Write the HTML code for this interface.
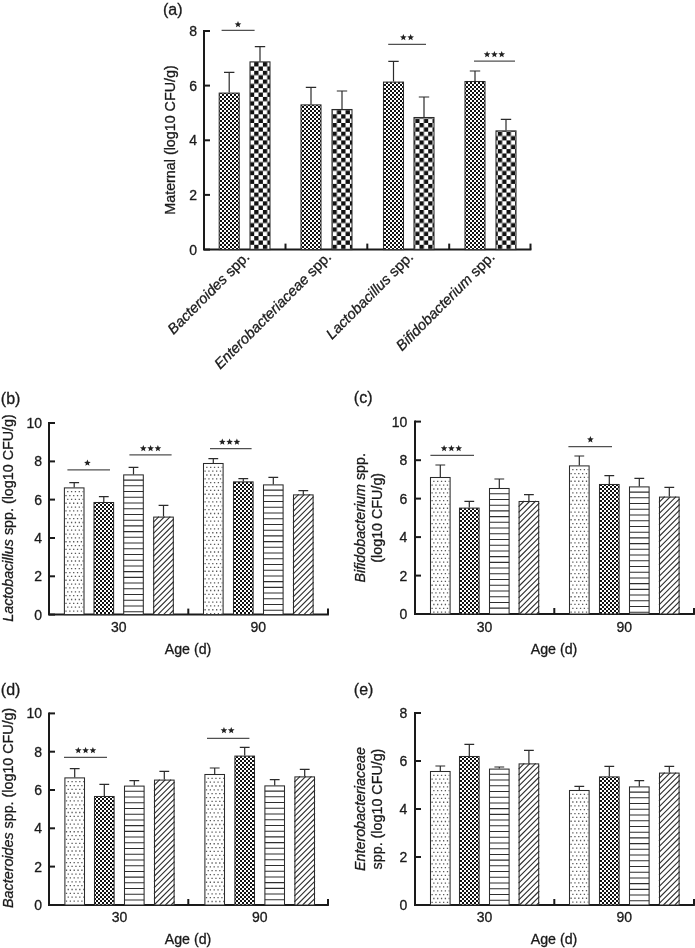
<!DOCTYPE html>
<html><head><meta charset="utf-8"><title>Figure</title>
<style>html,body{margin:0;padding:0;background:#fff}body{width:695px;height:948px;overflow:hidden}svg{display:block;will-change:transform}text{font-family:"Liberation Sans",sans-serif;fill:#1a1a1a;stroke:#1a1a1a;stroke-width:0.3px}</style></head><body>
<svg width="695" height="948" viewBox="0 0 695 948">
<rect width="695" height="948" fill="#fff"/>
<defs>
<pattern id="chk" width="4" height="4" patternUnits="userSpaceOnUse"><rect width="4" height="4" fill="#fff"/><rect x="0" y="0" width="2" height="2" fill="#111"/><rect x="2" y="2" width="2" height="2" fill="#111"/></pattern>
<pattern id="chkA" width="4" height="4" patternUnits="userSpaceOnUse"><rect width="4" height="4" fill="#fff"/><rect x="0" y="0" width="2" height="2" fill="#111"/><rect x="2" y="2" width="2" height="2" fill="#111"/></pattern>
<pattern id="bigA" width="8.7" height="8.7" patternUnits="userSpaceOnUse" patternTransform="translate(1.9 1.2)"><rect width="8.7" height="8.7" fill="#fff"/><rect x="0" y="0" width="4.35" height="4.35" fill="#111"/><rect x="4.35" y="4.35" width="4.35" height="4.35" fill="#111"/></pattern>
</defs>
<text x="163" y="14.6" font-size="16" text-anchor="start" >(a)</text>
<path d="M204 30 V249.6 H531.4" stroke="#1a1a1a" stroke-width="2" fill="none" stroke-linejoin="miter"/>
<line x1="204" y1="31" x2="210" y2="31" stroke="#1a1a1a" stroke-width="2"/>
<text x="197" y="36" font-size="14" text-anchor="end" >8</text>
<line x1="204" y1="85.6" x2="210" y2="85.6" stroke="#1a1a1a" stroke-width="2"/>
<text x="197" y="90.6" font-size="14" text-anchor="end" >6</text>
<line x1="204" y1="140.3" x2="210" y2="140.3" stroke="#1a1a1a" stroke-width="2"/>
<text x="197" y="145.3" font-size="14" text-anchor="end" >4</text>
<line x1="204" y1="194.9" x2="210" y2="194.9" stroke="#1a1a1a" stroke-width="2"/>
<text x="197" y="199.9" font-size="14" text-anchor="end" >2</text>
<line x1="204" y1="249.6" x2="210" y2="249.6" stroke="#1a1a1a" stroke-width="2"/>
<text x="197" y="254.6" font-size="14" text-anchor="end" >0</text>
<line x1="285.5" y1="249.6" x2="285.5" y2="243.6" stroke="#1a1a1a" stroke-width="2"/>
<line x1="367.3" y1="249.6" x2="367.3" y2="243.6" stroke="#1a1a1a" stroke-width="2"/>
<line x1="449.2" y1="249.6" x2="449.2" y2="243.6" stroke="#1a1a1a" stroke-width="2"/>
<line x1="530.5" y1="249.6" x2="530.5" y2="243.6" stroke="#1a1a1a" stroke-width="2"/>
<text transform="translate(174.6 140) rotate(-90)" font-size="14.3" text-anchor="middle">Maternal (log10 CFU/g)</text>
<path d="M229.2 92.6 V72.4 M224 72.4 H234.4" stroke="#2b2b2b" stroke-width="1.2" fill="none"/>
<rect x="219.2" y="93.1" width="20" height="156.5" fill="#fff"/>
<rect x="219.2" y="93.1" width="20" height="156.5" fill="url(#chkA)" stroke="#2b2b2b" stroke-width="1.05"/>
<path d="M260 61.4 V46.6 M254.8 46.6 H265.2" stroke="#2b2b2b" stroke-width="1.2" fill="none"/>
<rect x="250" y="61.9" width="20" height="187.7" fill="#fff"/>
<rect x="250" y="61.9" width="20" height="187.7" fill="url(#bigA)" stroke="#2b2b2b" stroke-width="1.05"/>
<path d="M311 104.4 V87.4 M305.8 87.4 H316.2" stroke="#2b2b2b" stroke-width="1.2" fill="none"/>
<rect x="301" y="104.9" width="20" height="144.7" fill="#fff"/>
<rect x="301" y="104.9" width="20" height="144.7" fill="url(#chkA)" stroke="#2b2b2b" stroke-width="1.05"/>
<path d="M342 109 V91 M336.8 91 H347.2" stroke="#2b2b2b" stroke-width="1.2" fill="none"/>
<rect x="332" y="109.5" width="20" height="140.1" fill="#fff"/>
<rect x="332" y="109.5" width="20" height="140.1" fill="url(#bigA)" stroke="#2b2b2b" stroke-width="1.05"/>
<path d="M393.5 81.6 V61.4 M388.3 61.4 H398.7" stroke="#2b2b2b" stroke-width="1.2" fill="none"/>
<rect x="383.5" y="82.1" width="20" height="167.5" fill="#fff"/>
<rect x="383.5" y="82.1" width="20" height="167.5" fill="url(#chkA)" stroke="#2b2b2b" stroke-width="1.05"/>
<path d="M424 117 V97 M418.8 97 H429.2" stroke="#2b2b2b" stroke-width="1.2" fill="none"/>
<rect x="414" y="117.5" width="20" height="132.1" fill="#fff"/>
<rect x="414" y="117.5" width="20" height="132.1" fill="url(#bigA)" stroke="#2b2b2b" stroke-width="1.05"/>
<path d="M475 81 V71 M469.8 71 H480.2" stroke="#2b2b2b" stroke-width="1.2" fill="none"/>
<rect x="465" y="81.5" width="20" height="168.1" fill="#fff"/>
<rect x="465" y="81.5" width="20" height="168.1" fill="url(#chkA)" stroke="#2b2b2b" stroke-width="1.05"/>
<path d="M506 130.4 V119.4 M500.8 119.4 H511.2" stroke="#2b2b2b" stroke-width="1.2" fill="none"/>
<rect x="496" y="130.9" width="20" height="118.7" fill="#fff"/>
<rect x="496" y="130.9" width="20" height="118.7" fill="url(#bigA)" stroke="#2b2b2b" stroke-width="1.05"/>
<line x1="221.6" y1="30.3" x2="254.6" y2="30.3" stroke="#505050" stroke-width="1.3"/>
<polygon points="238,21 238.91,23.25 241.33,23.42 239.47,24.98 240.06,27.33 238,26.05 235.94,27.33 236.53,24.98 234.67,23.42 237.09,23.25" fill="#222"/>
<line x1="388.2" y1="44.3" x2="426" y2="44.3" stroke="#505050" stroke-width="1.3"/>
<polygon points="403.35,34 404.26,36.25 406.68,36.42 404.82,37.98 405.41,40.33 403.35,39.05 401.29,40.33 401.88,37.98 400.02,36.42 402.44,36.25" fill="#222"/>
<polygon points="410.65,34 411.56,36.25 413.98,36.42 412.12,37.98 412.71,40.33 410.65,39.05 408.59,40.33 409.18,37.98 407.32,36.42 409.74,36.25" fill="#222"/>
<line x1="474" y1="61.1" x2="515" y2="61.1" stroke="#505050" stroke-width="1.3"/>
<polygon points="487.1,50.9 488.01,53.15 490.43,53.32 488.57,54.88 489.16,57.23 487.1,55.95 485.04,57.23 485.63,54.88 483.77,53.32 486.19,53.15" fill="#222"/>
<polygon points="494.4,50.9 495.31,53.15 497.73,53.32 495.87,54.88 496.46,57.23 494.4,55.95 492.34,57.23 492.93,54.88 491.07,53.32 493.49,53.15" fill="#222"/>
<polygon points="501.7,50.9 502.61,53.15 505.03,53.32 503.17,54.88 503.76,57.23 501.7,55.95 499.64,57.23 500.23,54.88 498.37,53.32 500.79,53.15" fill="#222"/>
<text transform="translate(250.4 258) rotate(-45)" font-size="14.6" text-anchor="end"><tspan font-style="italic">Bacteroides</tspan> spp.</text>
<text transform="translate(332 258) rotate(-45)" font-size="14.6" text-anchor="end"><tspan font-style="italic">Enterobacteriaceae</tspan> spp.</text>
<text transform="translate(414 258) rotate(-45)" font-size="14.6" text-anchor="end"><tspan font-style="italic">Lactobacillus</tspan> spp.</text>
<text transform="translate(495.5 258) rotate(-45)" font-size="14.6" text-anchor="end"><tspan font-style="italic">Bifidobacterium</tspan> spp.</text>
<path d="M49 422 V614.6 H328.9" stroke="#1a1a1a" stroke-width="2" fill="none" stroke-linejoin="miter"/>
<line x1="49" y1="423" x2="55" y2="423" stroke="#1a1a1a" stroke-width="2"/>
<text x="42" y="428" font-size="14" text-anchor="end" >10</text>
<line x1="49" y1="461.4" x2="55" y2="461.4" stroke="#1a1a1a" stroke-width="2"/>
<text x="42" y="466.4" font-size="14" text-anchor="end" >8</text>
<line x1="49" y1="499.6" x2="55" y2="499.6" stroke="#1a1a1a" stroke-width="2"/>
<text x="42" y="504.6" font-size="14" text-anchor="end" >6</text>
<line x1="49" y1="538" x2="55" y2="538" stroke="#1a1a1a" stroke-width="2"/>
<text x="42" y="543" font-size="14" text-anchor="end" >4</text>
<line x1="49" y1="576.3" x2="55" y2="576.3" stroke="#1a1a1a" stroke-width="2"/>
<text x="42" y="581.3" font-size="14" text-anchor="end" >2</text>
<line x1="49" y1="614.6" x2="55" y2="614.6" stroke="#1a1a1a" stroke-width="2"/>
<text x="42" y="619.6" font-size="14" text-anchor="end" >0</text>
<line x1="188.3" y1="614.6" x2="188.3" y2="608.6" stroke="#1a1a1a" stroke-width="2"/>
<line x1="328" y1="614.6" x2="328" y2="608.6" stroke="#1a1a1a" stroke-width="2"/>
<path d="M74.2 487.4 V482.6 M69.3 482.6 H79.1" stroke="#2b2b2b" stroke-width="1.2" fill="none"/>
<rect x="64.4" y="487.9" width="19.6" height="126.7" fill="#fff"/>
<path d="M67.1 491.7H83.3M65.35 495.55H83.3M67.1 499.4H83.3M65.35 503.25H83.3M67.1 507.1H83.3M65.35 510.95H83.3M67.1 514.8H83.3M65.35 518.65H83.3M67.1 522.5H83.3M65.35 526.35H83.3M67.1 530.2H83.3M65.35 534.05H83.3M67.1 537.9H83.3M65.35 541.75H83.3M67.1 545.6H83.3M65.35 549.45H83.3M67.1 553.3H83.3M65.35 557.15H83.3M67.1 561H83.3M65.35 564.85H83.3M67.1 568.7H83.3M65.35 572.55H83.3M67.1 576.4H83.3M65.35 580.25H83.3M67.1 584.1H83.3M65.35 587.95H83.3M67.1 591.8H83.3M65.35 595.65H83.3M67.1 599.5H83.3M65.35 603.35H83.3M67.1 607.2H83.3M65.35 611.05H83.3" stroke="#5a5a5a" stroke-width="1.3" stroke-dasharray="1.3 2.55" fill="none"/>
<rect x="64.4" y="487.9" width="19.6" height="126.7" fill="none" stroke="#2b2b2b" stroke-width="1.05"/>
<path d="M103.8 502 V496.6 M98.9 496.6 H108.7" stroke="#2b2b2b" stroke-width="1.2" fill="none"/>
<rect x="94" y="502.5" width="19.6" height="112.1" fill="#fff"/>
<rect x="94" y="502.5" width="19.6" height="112.1" fill="url(#chk)" stroke="#2b2b2b" stroke-width="1.05"/>
<path d="M133.5 474.4 V467.4 M128.6 467.4 H138.4" stroke="#2b2b2b" stroke-width="1.2" fill="none"/>
<rect x="123.7" y="474.9" width="19.6" height="139.7" fill="#fff"/>
<path d="M123.7 480.12H143.3M123.7 485.84H143.3M123.7 491.56H143.3M123.7 497.28H143.3M123.7 503H143.3M123.7 508.72H143.3M123.7 514.44H143.3M123.7 520.16H143.3M123.7 525.88H143.3M123.7 531.6H143.3M123.7 537.32H143.3M123.7 543.04H143.3M123.7 548.76H143.3M123.7 554.48H143.3M123.7 560.2H143.3M123.7 565.92H143.3M123.7 571.64H143.3M123.7 577.36H143.3M123.7 583.08H143.3M123.7 588.8H143.3M123.7 594.52H143.3M123.7 600.24H143.3M123.7 605.96H143.3M123.7 611.68H143.3" stroke="#2e2e2e" stroke-width="1.05" fill="none"/>
<rect x="123.7" y="474.9" width="19.6" height="139.7" fill="none" stroke="#2b2b2b" stroke-width="1.05"/>
<path d="M163.5 516.6 V505.4 M158.6 505.4 H168.4" stroke="#2b2b2b" stroke-width="1.2" fill="none"/>
<rect x="153.7" y="517.1" width="19.6" height="97.5" fill="#fff"/>
<path d="M153.2 522.3L158.9 516.6M153.2 528L164.6 516.6M153.2 533.7L170.3 516.6M153.2 539.4L173.8 518.8M153.2 545.1L173.8 524.5M153.2 550.8L173.8 530.2M153.2 556.5L173.8 535.9M153.2 562.2L173.8 541.6M153.2 567.9L173.8 547.3M153.2 573.6L173.8 553M153.2 579.3L173.8 558.7M153.2 585L173.8 564.4M153.2 590.7L173.8 570.1M153.2 596.4L173.8 575.8M153.2 602.1L173.8 581.5M153.2 607.8L173.8 587.2M153.2 613.5L173.8 592.9M157.8 614.6L173.8 598.6M163.5 614.6L173.8 604.3M169.2 614.6L173.8 610" stroke="#303030" stroke-width="1.12" fill="none"/>
<rect x="153.7" y="517.1" width="19.6" height="97.5" fill="none" stroke="#2b2b2b" stroke-width="1.05"/>
<path d="M213.3 463 V458.6 M208.4 458.6 H218.2" stroke="#2b2b2b" stroke-width="1.2" fill="none"/>
<rect x="203.5" y="463.5" width="19.6" height="151.1" fill="#fff"/>
<path d="M206.2 467.3H222.4M204.45 471.15H222.4M206.2 475H222.4M204.45 478.85H222.4M206.2 482.7H222.4M204.45 486.55H222.4M206.2 490.4H222.4M204.45 494.25H222.4M206.2 498.1H222.4M204.45 501.95H222.4M206.2 505.8H222.4M204.45 509.65H222.4M206.2 513.5H222.4M204.45 517.35H222.4M206.2 521.2H222.4M204.45 525.05H222.4M206.2 528.9H222.4M204.45 532.75H222.4M206.2 536.6H222.4M204.45 540.45H222.4M206.2 544.3H222.4M204.45 548.15H222.4M206.2 552H222.4M204.45 555.85H222.4M206.2 559.7H222.4M204.45 563.55H222.4M206.2 567.4H222.4M204.45 571.25H222.4M206.2 575.1H222.4M204.45 578.95H222.4M206.2 582.8H222.4M204.45 586.65H222.4M206.2 590.5H222.4M204.45 594.35H222.4M206.2 598.2H222.4M204.45 602.05H222.4M206.2 605.9H222.4M204.45 609.75H222.4M206.2 613.6H222.4" stroke="#5a5a5a" stroke-width="1.3" stroke-dasharray="1.3 2.55" fill="none"/>
<rect x="203.5" y="463.5" width="19.6" height="151.1" fill="none" stroke="#2b2b2b" stroke-width="1.05"/>
<path d="M243.3 481.4 V478.6 M238.4 478.6 H248.2" stroke="#2b2b2b" stroke-width="1.2" fill="none"/>
<rect x="233.5" y="481.9" width="19.6" height="132.7" fill="#fff"/>
<rect x="233.5" y="481.9" width="19.6" height="132.7" fill="url(#chk)" stroke="#2b2b2b" stroke-width="1.05"/>
<path d="M273.3 484.4 V477.4 M268.4 477.4 H278.2" stroke="#2b2b2b" stroke-width="1.2" fill="none"/>
<rect x="263.5" y="484.9" width="19.6" height="129.7" fill="#fff"/>
<path d="M263.5 490.12H283.1M263.5 495.84H283.1M263.5 501.56H283.1M263.5 507.28H283.1M263.5 513H283.1M263.5 518.72H283.1M263.5 524.44H283.1M263.5 530.16H283.1M263.5 535.88H283.1M263.5 541.6H283.1M263.5 547.32H283.1M263.5 553.04H283.1M263.5 558.76H283.1M263.5 564.48H283.1M263.5 570.2H283.1M263.5 575.92H283.1M263.5 581.64H283.1M263.5 587.36H283.1M263.5 593.08H283.1M263.5 598.8H283.1M263.5 604.52H283.1M263.5 610.24H283.1" stroke="#2e2e2e" stroke-width="1.05" fill="none"/>
<rect x="263.5" y="484.9" width="19.6" height="129.7" fill="none" stroke="#2b2b2b" stroke-width="1.05"/>
<path d="M303.3 494.4 V490.6 M298.4 490.6 H308.2" stroke="#2b2b2b" stroke-width="1.2" fill="none"/>
<rect x="293.5" y="494.9" width="19.6" height="119.7" fill="#fff"/>
<path d="M293 500.1L298.7 494.4M293 505.8L304.4 494.4M293 511.5L310.1 494.4M293 517.2L313.6 496.6M293 522.9L313.6 502.3M293 528.6L313.6 508M293 534.3L313.6 513.7M293 540L313.6 519.4M293 545.7L313.6 525.1M293 551.4L313.6 530.8M293 557.1L313.6 536.5M293 562.8L313.6 542.2M293 568.5L313.6 547.9M293 574.2L313.6 553.6M293 579.9L313.6 559.3M293 585.6L313.6 565M293 591.3L313.6 570.7M293 597L313.6 576.4M293 602.7L313.6 582.1M293 608.4L313.6 587.8M293 614.1L313.6 593.5M298.2 614.6L313.6 599.2M303.9 614.6L313.6 604.9M309.6 614.6L313.6 610.6" stroke="#303030" stroke-width="1.12" fill="none"/>
<rect x="293.5" y="494.9" width="19.6" height="119.7" fill="none" stroke="#2b2b2b" stroke-width="1.05"/>
<text x="0.8" y="404" font-size="16" text-anchor="start" >(b)</text>
<text x="118.85" y="631.8" font-size="14" text-anchor="middle" >30</text>
<text x="258.3" y="631.8" font-size="14" text-anchor="middle" >90</text>
<text x="188" y="653.5" font-size="14.2" text-anchor="middle" >Age (d)</text>
<text transform="translate(13 518) rotate(-90)" font-size="14.3" text-anchor="middle"><tspan font-style="italic">Lactobacillus</tspan> spp. (log10 CFU/g)</text>
<line x1="67.4" y1="469.9" x2="110" y2="469.9" stroke="#505050" stroke-width="1.3"/>
<polygon points="87.4,459.5 88.31,461.75 90.73,461.92 88.87,463.48 89.46,465.83 87.4,464.55 85.34,465.83 85.93,463.48 84.07,461.92 86.49,461.75" fill="#222"/>
<line x1="129.4" y1="454.9" x2="171.6" y2="454.9" stroke="#505050" stroke-width="1.3"/>
<polygon points="143.3,444.9 144.21,447.15 146.63,447.32 144.77,448.88 145.36,451.23 143.3,449.95 141.24,451.23 141.83,448.88 139.97,447.32 142.39,447.15" fill="#222"/>
<polygon points="150.6,444.9 151.51,447.15 153.93,447.32 152.07,448.88 152.66,451.23 150.6,449.95 148.54,451.23 149.13,448.88 147.27,447.32 149.69,447.15" fill="#222"/>
<polygon points="157.9,444.9 158.81,447.15 161.23,447.32 159.37,448.88 159.96,451.23 157.9,449.95 155.84,451.23 156.43,448.88 154.57,447.32 156.99,447.15" fill="#222"/>
<line x1="210" y1="448.7" x2="251.6" y2="448.7" stroke="#505050" stroke-width="1.3"/>
<polygon points="222.3,438.5 223.21,440.75 225.63,440.92 223.77,442.48 224.36,444.83 222.3,443.55 220.24,444.83 220.83,442.48 218.97,440.92 221.39,440.75" fill="#222"/>
<polygon points="229.6,438.5 230.51,440.75 232.93,440.92 231.07,442.48 231.66,444.83 229.6,443.55 227.54,444.83 228.13,442.48 226.27,440.92 228.69,440.75" fill="#222"/>
<polygon points="236.9,438.5 237.81,440.75 240.23,440.92 238.37,442.48 238.96,444.83 236.9,443.55 234.84,444.83 235.43,442.48 233.57,440.92 235.99,440.75" fill="#222"/>
<path d="M415 420.6 V614 H694.9" stroke="#1a1a1a" stroke-width="2" fill="none" stroke-linejoin="miter"/>
<line x1="415" y1="421.6" x2="421" y2="421.6" stroke="#1a1a1a" stroke-width="2"/>
<text x="407.3" y="426.6" font-size="14" text-anchor="end" >10</text>
<line x1="415" y1="460.2" x2="421" y2="460.2" stroke="#1a1a1a" stroke-width="2"/>
<text x="407.3" y="465.2" font-size="14" text-anchor="end" >8</text>
<line x1="415" y1="498.6" x2="421" y2="498.6" stroke="#1a1a1a" stroke-width="2"/>
<text x="407.3" y="503.6" font-size="14" text-anchor="end" >6</text>
<line x1="415" y1="537.1" x2="421" y2="537.1" stroke="#1a1a1a" stroke-width="2"/>
<text x="407.3" y="542.1" font-size="14" text-anchor="end" >4</text>
<line x1="415" y1="575.6" x2="421" y2="575.6" stroke="#1a1a1a" stroke-width="2"/>
<text x="407.3" y="580.6" font-size="14" text-anchor="end" >2</text>
<line x1="415" y1="614" x2="421" y2="614" stroke="#1a1a1a" stroke-width="2"/>
<text x="407.3" y="619" font-size="14" text-anchor="end" >0</text>
<line x1="554.3" y1="614" x2="554.3" y2="608" stroke="#1a1a1a" stroke-width="2"/>
<line x1="694" y1="614" x2="694" y2="608" stroke="#1a1a1a" stroke-width="2"/>
<path d="M440.3 477 V465 M435.4 465 H445.2" stroke="#2b2b2b" stroke-width="1.2" fill="none"/>
<rect x="430.5" y="477.5" width="19.6" height="136.5" fill="#fff"/>
<path d="M433.2 481.3H449.4M431.45 485.15H449.4M433.2 489H449.4M431.45 492.85H449.4M433.2 496.7H449.4M431.45 500.55H449.4M433.2 504.4H449.4M431.45 508.25H449.4M433.2 512.1H449.4M431.45 515.95H449.4M433.2 519.8H449.4M431.45 523.65H449.4M433.2 527.5H449.4M431.45 531.35H449.4M433.2 535.2H449.4M431.45 539.05H449.4M433.2 542.9H449.4M431.45 546.75H449.4M433.2 550.6H449.4M431.45 554.45H449.4M433.2 558.3H449.4M431.45 562.15H449.4M433.2 566H449.4M431.45 569.85H449.4M433.2 573.7H449.4M431.45 577.55H449.4M433.2 581.4H449.4M431.45 585.25H449.4M433.2 589.1H449.4M431.45 592.95H449.4M433.2 596.8H449.4M431.45 600.65H449.4M433.2 604.5H449.4M431.45 608.35H449.4M433.2 612.2H449.4" stroke="#5a5a5a" stroke-width="1.3" stroke-dasharray="1.3 2.55" fill="none"/>
<rect x="430.5" y="477.5" width="19.6" height="136.5" fill="none" stroke="#2b2b2b" stroke-width="1.05"/>
<path d="M469.3 507.6 V501.4 M464.4 501.4 H474.2" stroke="#2b2b2b" stroke-width="1.2" fill="none"/>
<rect x="459.5" y="508.1" width="19.6" height="105.9" fill="#fff"/>
<rect x="459.5" y="508.1" width="19.6" height="105.9" fill="url(#chk)" stroke="#2b2b2b" stroke-width="1.05"/>
<path d="M499.3 488 V479 M494.4 479 H504.2" stroke="#2b2b2b" stroke-width="1.2" fill="none"/>
<rect x="489.5" y="488.5" width="19.6" height="125.5" fill="#fff"/>
<path d="M489.5 493.72H509.1M489.5 499.44H509.1M489.5 505.16H509.1M489.5 510.88H509.1M489.5 516.6H509.1M489.5 522.32H509.1M489.5 528.04H509.1M489.5 533.76H509.1M489.5 539.48H509.1M489.5 545.2H509.1M489.5 550.92H509.1M489.5 556.64H509.1M489.5 562.36H509.1M489.5 568.08H509.1M489.5 573.8H509.1M489.5 579.52H509.1M489.5 585.24H509.1M489.5 590.96H509.1M489.5 596.68H509.1M489.5 602.4H509.1M489.5 608.12H509.1" stroke="#2e2e2e" stroke-width="1.05" fill="none"/>
<rect x="489.5" y="488.5" width="19.6" height="125.5" fill="none" stroke="#2b2b2b" stroke-width="1.05"/>
<path d="M528.9 501 V494.6 M524 494.6 H533.8" stroke="#2b2b2b" stroke-width="1.2" fill="none"/>
<rect x="519.1" y="501.5" width="19.6" height="112.5" fill="#fff"/>
<path d="M518.6 506.7L524.3 501M518.6 512.4L530 501M518.6 518.1L535.7 501M518.6 523.8L539.2 503.2M518.6 529.5L539.2 508.9M518.6 535.2L539.2 514.6M518.6 540.9L539.2 520.3M518.6 546.6L539.2 526M518.6 552.3L539.2 531.7M518.6 558L539.2 537.4M518.6 563.7L539.2 543.1M518.6 569.4L539.2 548.8M518.6 575.1L539.2 554.5M518.6 580.8L539.2 560.2M518.6 586.5L539.2 565.9M518.6 592.2L539.2 571.6M518.6 597.9L539.2 577.3M518.6 603.6L539.2 583M518.6 609.3L539.2 588.7M519.6 614L539.2 594.4M525.3 614L539.2 600.1M531 614L539.2 605.8M536.7 614L539.2 611.5" stroke="#303030" stroke-width="1.12" fill="none"/>
<rect x="519.1" y="501.5" width="19.6" height="112.5" fill="none" stroke="#2b2b2b" stroke-width="1.05"/>
<path d="M579.3 465.4 V456 M574.4 456 H584.2" stroke="#2b2b2b" stroke-width="1.2" fill="none"/>
<rect x="569.5" y="465.9" width="19.6" height="148.1" fill="#fff"/>
<path d="M572.2 469.7H588.4M570.45 473.55H588.4M572.2 477.4H588.4M570.45 481.25H588.4M572.2 485.1H588.4M570.45 488.95H588.4M572.2 492.8H588.4M570.45 496.65H588.4M572.2 500.5H588.4M570.45 504.35H588.4M572.2 508.2H588.4M570.45 512.05H588.4M572.2 515.9H588.4M570.45 519.75H588.4M572.2 523.6H588.4M570.45 527.45H588.4M572.2 531.3H588.4M570.45 535.15H588.4M572.2 539H588.4M570.45 542.85H588.4M572.2 546.7H588.4M570.45 550.55H588.4M572.2 554.4H588.4M570.45 558.25H588.4M572.2 562.1H588.4M570.45 565.95H588.4M572.2 569.8H588.4M570.45 573.65H588.4M572.2 577.5H588.4M570.45 581.35H588.4M572.2 585.2H588.4M570.45 589.05H588.4M572.2 592.9H588.4M570.45 596.75H588.4M572.2 600.6H588.4M570.45 604.45H588.4M572.2 608.3H588.4M570.45 612.15H588.4" stroke="#5a5a5a" stroke-width="1.3" stroke-dasharray="1.3 2.55" fill="none"/>
<rect x="569.5" y="465.9" width="19.6" height="148.1" fill="none" stroke="#2b2b2b" stroke-width="1.05"/>
<path d="M609.3 484 V475.6 M604.4 475.6 H614.2" stroke="#2b2b2b" stroke-width="1.2" fill="none"/>
<rect x="599.5" y="484.5" width="19.6" height="129.5" fill="#fff"/>
<rect x="599.5" y="484.5" width="19.6" height="129.5" fill="url(#chk)" stroke="#2b2b2b" stroke-width="1.05"/>
<path d="M639.3 486.4 V478.4 M634.4 478.4 H644.2" stroke="#2b2b2b" stroke-width="1.2" fill="none"/>
<rect x="629.5" y="486.9" width="19.6" height="127.1" fill="#fff"/>
<path d="M629.5 492.12H649.1M629.5 497.84H649.1M629.5 503.56H649.1M629.5 509.28H649.1M629.5 515H649.1M629.5 520.72H649.1M629.5 526.44H649.1M629.5 532.16H649.1M629.5 537.88H649.1M629.5 543.6H649.1M629.5 549.32H649.1M629.5 555.04H649.1M629.5 560.76H649.1M629.5 566.48H649.1M629.5 572.2H649.1M629.5 577.92H649.1M629.5 583.64H649.1M629.5 589.36H649.1M629.5 595.08H649.1M629.5 600.8H649.1M629.5 606.52H649.1M629.5 612.24H649.1" stroke="#2e2e2e" stroke-width="1.05" fill="none"/>
<rect x="629.5" y="486.9" width="19.6" height="127.1" fill="none" stroke="#2b2b2b" stroke-width="1.05"/>
<path d="M669.3 496.6 V487.4 M664.4 487.4 H674.2" stroke="#2b2b2b" stroke-width="1.2" fill="none"/>
<rect x="659.5" y="497.1" width="19.6" height="116.9" fill="#fff"/>
<path d="M659 502.3L664.7 496.6M659 508L670.4 496.6M659 513.7L676.1 496.6M659 519.4L679.6 498.8M659 525.1L679.6 504.5M659 530.8L679.6 510.2M659 536.5L679.6 515.9M659 542.2L679.6 521.6M659 547.9L679.6 527.3M659 553.6L679.6 533M659 559.3L679.6 538.7M659 565L679.6 544.4M659 570.7L679.6 550.1M659 576.4L679.6 555.8M659 582.1L679.6 561.5M659 587.8L679.6 567.2M659 593.5L679.6 572.9M659 599.2L679.6 578.6M659 604.9L679.6 584.3M659 610.6L679.6 590M661.3 614L679.6 595.7M667 614L679.6 601.4M672.7 614L679.6 607.1M678.4 614L679.6 612.8" stroke="#303030" stroke-width="1.12" fill="none"/>
<rect x="659.5" y="497.1" width="19.6" height="116.9" fill="none" stroke="#2b2b2b" stroke-width="1.05"/>
<text x="353.8" y="403.3" font-size="16" text-anchor="start" >(c)</text>
<text x="484.6" y="631.8" font-size="14" text-anchor="middle" >30</text>
<text x="624.3" y="631.8" font-size="14" text-anchor="middle" >90</text>
<text x="554" y="653.5" font-size="14.2" text-anchor="middle" >Age (d)</text>
<text transform="translate(365 517.8) rotate(-90)" font-size="14.3" text-anchor="middle"><tspan font-style="italic">Bifidobacterium</tspan> spp.</text>
<text transform="translate(382 517.8) rotate(-90)" font-size="14.3" text-anchor="middle">(log10 CFU/g)</text>
<line x1="430.4" y1="455.3" x2="474" y2="455.3" stroke="#505050" stroke-width="1.3"/>
<polygon points="444.1,444.9 445.01,447.15 447.43,447.32 445.57,448.88 446.16,451.23 444.1,449.95 442.04,451.23 442.63,448.88 440.77,447.32 443.19,447.15" fill="#222"/>
<polygon points="451.4,444.9 452.31,447.15 454.73,447.32 452.87,448.88 453.46,451.23 451.4,449.95 449.34,451.23 449.93,448.88 448.07,447.32 450.49,447.15" fill="#222"/>
<polygon points="458.7,444.9 459.61,447.15 462.03,447.32 460.17,448.88 460.76,451.23 458.7,449.95 456.64,451.23 457.23,448.88 455.37,447.32 457.79,447.15" fill="#222"/>
<line x1="568.4" y1="446.7" x2="612" y2="446.7" stroke="#505050" stroke-width="1.3"/>
<polygon points="590.4,436.1 591.31,438.35 593.73,438.52 591.87,440.08 592.46,442.43 590.4,441.15 588.34,442.43 588.93,440.08 587.07,438.52 589.49,438.35" fill="#222"/>
<path d="M49 712.4 V905 H328.9" stroke="#1a1a1a" stroke-width="2" fill="none" stroke-linejoin="miter"/>
<line x1="49" y1="713.4" x2="55" y2="713.4" stroke="#1a1a1a" stroke-width="2"/>
<text x="42" y="718.4" font-size="14" text-anchor="end" >10</text>
<line x1="49" y1="751.7" x2="55" y2="751.7" stroke="#1a1a1a" stroke-width="2"/>
<text x="42" y="756.7" font-size="14" text-anchor="end" >8</text>
<line x1="49" y1="790" x2="55" y2="790" stroke="#1a1a1a" stroke-width="2"/>
<text x="42" y="795" font-size="14" text-anchor="end" >6</text>
<line x1="49" y1="828.3" x2="55" y2="828.3" stroke="#1a1a1a" stroke-width="2"/>
<text x="42" y="833.3" font-size="14" text-anchor="end" >4</text>
<line x1="49" y1="866.6" x2="55" y2="866.6" stroke="#1a1a1a" stroke-width="2"/>
<text x="42" y="871.6" font-size="14" text-anchor="end" >2</text>
<line x1="49" y1="905" x2="55" y2="905" stroke="#1a1a1a" stroke-width="2"/>
<text x="42" y="910" font-size="14" text-anchor="end" >0</text>
<line x1="188.3" y1="905" x2="188.3" y2="899" stroke="#1a1a1a" stroke-width="2"/>
<line x1="328" y1="905" x2="328" y2="899" stroke="#1a1a1a" stroke-width="2"/>
<path d="M74.7 777.4 V768.6 M69.8 768.6 H79.6" stroke="#2b2b2b" stroke-width="1.2" fill="none"/>
<rect x="64.9" y="777.9" width="19.6" height="127.1" fill="#fff"/>
<path d="M67.6 781.7H83.8M65.85 785.55H83.8M67.6 789.4H83.8M65.85 793.25H83.8M67.6 797.1H83.8M65.85 800.95H83.8M67.6 804.8H83.8M65.85 808.65H83.8M67.6 812.5H83.8M65.85 816.35H83.8M67.6 820.2H83.8M65.85 824.05H83.8M67.6 827.9H83.8M65.85 831.75H83.8M67.6 835.6H83.8M65.85 839.45H83.8M67.6 843.3H83.8M65.85 847.15H83.8M67.6 851H83.8M65.85 854.85H83.8M67.6 858.7H83.8M65.85 862.55H83.8M67.6 866.4H83.8M65.85 870.25H83.8M67.6 874.1H83.8M65.85 877.95H83.8M67.6 881.8H83.8M65.85 885.65H83.8M67.6 889.5H83.8M65.85 893.35H83.8M67.6 897.2H83.8M65.85 901.05H83.8" stroke="#5a5a5a" stroke-width="1.3" stroke-dasharray="1.3 2.55" fill="none"/>
<rect x="64.9" y="777.9" width="19.6" height="127.1" fill="none" stroke="#2b2b2b" stroke-width="1.05"/>
<path d="M104.3 796 V784.4 M99.4 784.4 H109.2" stroke="#2b2b2b" stroke-width="1.2" fill="none"/>
<rect x="94.5" y="796.5" width="19.6" height="108.5" fill="#fff"/>
<rect x="94.5" y="796.5" width="19.6" height="108.5" fill="url(#chk)" stroke="#2b2b2b" stroke-width="1.05"/>
<path d="M134.3 785.6 V780.6 M129.4 780.6 H139.2" stroke="#2b2b2b" stroke-width="1.2" fill="none"/>
<rect x="124.5" y="786.1" width="19.6" height="118.9" fill="#fff"/>
<path d="M124.5 791.32H144.1M124.5 797.04H144.1M124.5 802.76H144.1M124.5 808.48H144.1M124.5 814.2H144.1M124.5 819.92H144.1M124.5 825.64H144.1M124.5 831.36H144.1M124.5 837.08H144.1M124.5 842.8H144.1M124.5 848.52H144.1M124.5 854.24H144.1M124.5 859.96H144.1M124.5 865.68H144.1M124.5 871.4H144.1M124.5 877.12H144.1M124.5 882.84H144.1M124.5 888.56H144.1M124.5 894.28H144.1M124.5 900H144.1" stroke="#2e2e2e" stroke-width="1.05" fill="none"/>
<rect x="124.5" y="786.1" width="19.6" height="118.9" fill="none" stroke="#2b2b2b" stroke-width="1.05"/>
<path d="M164.3 779.6 V771.4 M159.4 771.4 H169.2" stroke="#2b2b2b" stroke-width="1.2" fill="none"/>
<rect x="154.5" y="780.1" width="19.6" height="124.9" fill="#fff"/>
<path d="M154 785.3L159.7 779.6M154 791L165.4 779.6M154 796.7L171.1 779.6M154 802.4L174.6 781.8M154 808.1L174.6 787.5M154 813.8L174.6 793.2M154 819.5L174.6 798.9M154 825.2L174.6 804.6M154 830.9L174.6 810.3M154 836.6L174.6 816M154 842.3L174.6 821.7M154 848L174.6 827.4M154 853.7L174.6 833.1M154 859.4L174.6 838.8M154 865.1L174.6 844.5M154 870.8L174.6 850.2M154 876.5L174.6 855.9M154 882.2L174.6 861.6M154 887.9L174.6 867.3M154 893.6L174.6 873M154 899.3L174.6 878.7M154 905L174.6 884.4M159.7 905L174.6 890.1M165.4 905L174.6 895.8M171.1 905L174.6 901.5" stroke="#303030" stroke-width="1.12" fill="none"/>
<rect x="154.5" y="780.1" width="19.6" height="124.9" fill="none" stroke="#2b2b2b" stroke-width="1.05"/>
<path d="M214.7 774 V768 M209.8 768 H219.6" stroke="#2b2b2b" stroke-width="1.2" fill="none"/>
<rect x="204.9" y="774.5" width="19.6" height="130.5" fill="#fff"/>
<path d="M207.6 778.3H223.8M205.85 782.15H223.8M207.6 786H223.8M205.85 789.85H223.8M207.6 793.7H223.8M205.85 797.55H223.8M207.6 801.4H223.8M205.85 805.25H223.8M207.6 809.1H223.8M205.85 812.95H223.8M207.6 816.8H223.8M205.85 820.65H223.8M207.6 824.5H223.8M205.85 828.35H223.8M207.6 832.2H223.8M205.85 836.05H223.8M207.6 839.9H223.8M205.85 843.75H223.8M207.6 847.6H223.8M205.85 851.45H223.8M207.6 855.3H223.8M205.85 859.15H223.8M207.6 863H223.8M205.85 866.85H223.8M207.6 870.7H223.8M205.85 874.55H223.8M207.6 878.4H223.8M205.85 882.25H223.8M207.6 886.1H223.8M205.85 889.95H223.8M207.6 893.8H223.8M205.85 897.65H223.8M207.6 901.5H223.8" stroke="#5a5a5a" stroke-width="1.3" stroke-dasharray="1.3 2.55" fill="none"/>
<rect x="204.9" y="774.5" width="19.6" height="130.5" fill="none" stroke="#2b2b2b" stroke-width="1.05"/>
<path d="M244.7 755.6 V747.4 M239.8 747.4 H249.6" stroke="#2b2b2b" stroke-width="1.2" fill="none"/>
<rect x="234.9" y="756.1" width="19.6" height="148.9" fill="#fff"/>
<rect x="234.9" y="756.1" width="19.6" height="148.9" fill="url(#chk)" stroke="#2b2b2b" stroke-width="1.05"/>
<path d="M274.7 785.4 V779.6 M269.8 779.6 H279.6" stroke="#2b2b2b" stroke-width="1.2" fill="none"/>
<rect x="264.9" y="785.9" width="19.6" height="119.1" fill="#fff"/>
<path d="M264.9 791.12H284.5M264.9 796.84H284.5M264.9 802.56H284.5M264.9 808.28H284.5M264.9 814H284.5M264.9 819.72H284.5M264.9 825.44H284.5M264.9 831.16H284.5M264.9 836.88H284.5M264.9 842.6H284.5M264.9 848.32H284.5M264.9 854.04H284.5M264.9 859.76H284.5M264.9 865.48H284.5M264.9 871.2H284.5M264.9 876.92H284.5M264.9 882.64H284.5M264.9 888.36H284.5M264.9 894.08H284.5M264.9 899.8H284.5" stroke="#2e2e2e" stroke-width="1.05" fill="none"/>
<rect x="264.9" y="785.9" width="19.6" height="119.1" fill="none" stroke="#2b2b2b" stroke-width="1.05"/>
<path d="M304.7 776.4 V769.4 M299.8 769.4 H309.6" stroke="#2b2b2b" stroke-width="1.2" fill="none"/>
<rect x="294.9" y="776.9" width="19.6" height="128.1" fill="#fff"/>
<path d="M294.4 782.1L300.1 776.4M294.4 787.8L305.8 776.4M294.4 793.5L311.5 776.4M294.4 799.2L315 778.6M294.4 804.9L315 784.3M294.4 810.6L315 790M294.4 816.3L315 795.7M294.4 822L315 801.4M294.4 827.7L315 807.1M294.4 833.4L315 812.8M294.4 839.1L315 818.5M294.4 844.8L315 824.2M294.4 850.5L315 829.9M294.4 856.2L315 835.6M294.4 861.9L315 841.3M294.4 867.6L315 847M294.4 873.3L315 852.7M294.4 879L315 858.4M294.4 884.7L315 864.1M294.4 890.4L315 869.8M294.4 896.1L315 875.5M294.4 901.8L315 881.2M296.9 905L315 886.9M302.6 905L315 892.6M308.3 905L315 898.3M314 905L315 904" stroke="#303030" stroke-width="1.12" fill="none"/>
<rect x="294.9" y="776.9" width="19.6" height="128.1" fill="none" stroke="#2b2b2b" stroke-width="1.05"/>
<text x="0.8" y="695" font-size="16" text-anchor="start" >(d)</text>
<text x="119.5" y="922.3" font-size="14" text-anchor="middle" >30</text>
<text x="259.7" y="922.3" font-size="14" text-anchor="middle" >90</text>
<text x="188" y="943.5" font-size="14.2" text-anchor="middle" >Age (d)</text>
<text transform="translate(12.8 807.8) rotate(-90)" font-size="14.3" text-anchor="middle"><tspan font-style="italic">Bacteroides</tspan> spp. (log10 CFU/g)</text>
<line x1="64" y1="757.3" x2="107" y2="757.3" stroke="#505050" stroke-width="1.3"/>
<polygon points="78.3,746.9 79.21,749.15 81.63,749.32 79.77,750.88 80.36,753.23 78.3,751.95 76.24,753.23 76.83,750.88 74.97,749.32 77.39,749.15" fill="#222"/>
<polygon points="85.6,746.9 86.51,749.15 88.93,749.32 87.07,750.88 87.66,753.23 85.6,751.95 83.54,753.23 84.13,750.88 82.27,749.32 84.69,749.15" fill="#222"/>
<polygon points="92.9,746.9 93.81,749.15 96.23,749.32 94.37,750.88 94.96,753.23 92.9,751.95 90.84,753.23 91.43,750.88 89.57,749.32 91.99,749.15" fill="#222"/>
<line x1="207" y1="738.3" x2="249.4" y2="738.3" stroke="#505050" stroke-width="1.3"/>
<polygon points="223.95,726.9 224.86,729.15 227.28,729.32 225.42,730.88 226.01,733.23 223.95,731.95 221.89,733.23 222.48,730.88 220.62,729.32 223.04,729.15" fill="#222"/>
<polygon points="231.25,726.9 232.16,729.15 234.58,729.32 232.72,730.88 233.31,733.23 231.25,731.95 229.19,733.23 229.78,730.88 227.92,729.32 230.34,729.15" fill="#222"/>
<path d="M415 712 V905 H694.9" stroke="#1a1a1a" stroke-width="2" fill="none" stroke-linejoin="miter"/>
<line x1="415" y1="713" x2="421" y2="713" stroke="#1a1a1a" stroke-width="2"/>
<text x="407.3" y="718" font-size="14" text-anchor="end" >8</text>
<line x1="415" y1="761" x2="421" y2="761" stroke="#1a1a1a" stroke-width="2"/>
<text x="407.3" y="766" font-size="14" text-anchor="end" >6</text>
<line x1="415" y1="809" x2="421" y2="809" stroke="#1a1a1a" stroke-width="2"/>
<text x="407.3" y="814" font-size="14" text-anchor="end" >4</text>
<line x1="415" y1="857" x2="421" y2="857" stroke="#1a1a1a" stroke-width="2"/>
<text x="407.3" y="862" font-size="14" text-anchor="end" >2</text>
<line x1="415" y1="905" x2="421" y2="905" stroke="#1a1a1a" stroke-width="2"/>
<text x="407.3" y="910" font-size="14" text-anchor="end" >0</text>
<line x1="554.3" y1="905" x2="554.3" y2="899" stroke="#1a1a1a" stroke-width="2"/>
<line x1="694" y1="905" x2="694" y2="899" stroke="#1a1a1a" stroke-width="2"/>
<path d="M440.3 771 V766 M435.4 766 H445.2" stroke="#2b2b2b" stroke-width="1.2" fill="none"/>
<rect x="430.5" y="771.5" width="19.6" height="133.5" fill="#fff"/>
<path d="M433.2 775.3H449.4M431.45 779.15H449.4M433.2 783H449.4M431.45 786.85H449.4M433.2 790.7H449.4M431.45 794.55H449.4M433.2 798.4H449.4M431.45 802.25H449.4M433.2 806.1H449.4M431.45 809.95H449.4M433.2 813.8H449.4M431.45 817.65H449.4M433.2 821.5H449.4M431.45 825.35H449.4M433.2 829.2H449.4M431.45 833.05H449.4M433.2 836.9H449.4M431.45 840.75H449.4M433.2 844.6H449.4M431.45 848.45H449.4M433.2 852.3H449.4M431.45 856.15H449.4M433.2 860H449.4M431.45 863.85H449.4M433.2 867.7H449.4M431.45 871.55H449.4M433.2 875.4H449.4M431.45 879.25H449.4M433.2 883.1H449.4M431.45 886.95H449.4M433.2 890.8H449.4M431.45 894.65H449.4M433.2 898.5H449.4M431.45 902.35H449.4" stroke="#5a5a5a" stroke-width="1.3" stroke-dasharray="1.3 2.55" fill="none"/>
<rect x="430.5" y="771.5" width="19.6" height="133.5" fill="none" stroke="#2b2b2b" stroke-width="1.05"/>
<path d="M469.3 756 V744.4 M464.4 744.4 H474.2" stroke="#2b2b2b" stroke-width="1.2" fill="none"/>
<rect x="459.5" y="756.5" width="19.6" height="148.5" fill="#fff"/>
<rect x="459.5" y="756.5" width="19.6" height="148.5" fill="url(#chk)" stroke="#2b2b2b" stroke-width="1.05"/>
<path d="M499.3 768.6 V767 M494.4 767 H504.2" stroke="#2b2b2b" stroke-width="1.2" fill="none"/>
<rect x="489.5" y="769.1" width="19.6" height="135.9" fill="#fff"/>
<path d="M489.5 774.32H509.1M489.5 780.04H509.1M489.5 785.76H509.1M489.5 791.48H509.1M489.5 797.2H509.1M489.5 802.92H509.1M489.5 808.64H509.1M489.5 814.36H509.1M489.5 820.08H509.1M489.5 825.8H509.1M489.5 831.52H509.1M489.5 837.24H509.1M489.5 842.96H509.1M489.5 848.68H509.1M489.5 854.4H509.1M489.5 860.12H509.1M489.5 865.84H509.1M489.5 871.56H509.1M489.5 877.28H509.1M489.5 883H509.1M489.5 888.72H509.1M489.5 894.44H509.1M489.5 900.16H509.1" stroke="#2e2e2e" stroke-width="1.05" fill="none"/>
<rect x="489.5" y="769.1" width="19.6" height="135.9" fill="none" stroke="#2b2b2b" stroke-width="1.05"/>
<path d="M528.9 763.4 V750.4 M524 750.4 H533.8" stroke="#2b2b2b" stroke-width="1.2" fill="none"/>
<rect x="519.1" y="763.9" width="19.6" height="141.1" fill="#fff"/>
<path d="M518.6 769.1L524.3 763.4M518.6 774.8L530 763.4M518.6 780.5L535.7 763.4M518.6 786.2L539.2 765.6M518.6 791.9L539.2 771.3M518.6 797.6L539.2 777M518.6 803.3L539.2 782.7M518.6 809L539.2 788.4M518.6 814.7L539.2 794.1M518.6 820.4L539.2 799.8M518.6 826.1L539.2 805.5M518.6 831.8L539.2 811.2M518.6 837.5L539.2 816.9M518.6 843.2L539.2 822.6M518.6 848.9L539.2 828.3M518.6 854.6L539.2 834M518.6 860.3L539.2 839.7M518.6 866L539.2 845.4M518.6 871.7L539.2 851.1M518.6 877.4L539.2 856.8M518.6 883.1L539.2 862.5M518.6 888.8L539.2 868.2M518.6 894.5L539.2 873.9M518.6 900.2L539.2 879.6M519.5 905L539.2 885.3M525.2 905L539.2 891M530.9 905L539.2 896.7M536.6 905L539.2 902.4" stroke="#303030" stroke-width="1.12" fill="none"/>
<rect x="519.1" y="763.9" width="19.6" height="141.1" fill="none" stroke="#2b2b2b" stroke-width="1.05"/>
<path d="M579.3 790 V786.4 M574.4 786.4 H584.2" stroke="#2b2b2b" stroke-width="1.2" fill="none"/>
<rect x="569.5" y="790.5" width="19.6" height="114.5" fill="#fff"/>
<path d="M572.2 794.3H588.4M570.45 798.15H588.4M572.2 802H588.4M570.45 805.85H588.4M572.2 809.7H588.4M570.45 813.55H588.4M572.2 817.4H588.4M570.45 821.25H588.4M572.2 825.1H588.4M570.45 828.95H588.4M572.2 832.8H588.4M570.45 836.65H588.4M572.2 840.5H588.4M570.45 844.35H588.4M572.2 848.2H588.4M570.45 852.05H588.4M572.2 855.9H588.4M570.45 859.75H588.4M572.2 863.6H588.4M570.45 867.45H588.4M572.2 871.3H588.4M570.45 875.15H588.4M572.2 879H588.4M570.45 882.85H588.4M572.2 886.7H588.4M570.45 890.55H588.4M572.2 894.4H588.4M570.45 898.25H588.4M572.2 902.1H588.4" stroke="#5a5a5a" stroke-width="1.3" stroke-dasharray="1.3 2.55" fill="none"/>
<rect x="569.5" y="790.5" width="19.6" height="114.5" fill="none" stroke="#2b2b2b" stroke-width="1.05"/>
<path d="M609.3 776.4 V766.4 M604.4 766.4 H614.2" stroke="#2b2b2b" stroke-width="1.2" fill="none"/>
<rect x="599.5" y="776.9" width="19.6" height="128.1" fill="#fff"/>
<rect x="599.5" y="776.9" width="19.6" height="128.1" fill="url(#chk)" stroke="#2b2b2b" stroke-width="1.05"/>
<path d="M639.3 786.4 V780.6 M634.4 780.6 H644.2" stroke="#2b2b2b" stroke-width="1.2" fill="none"/>
<rect x="629.5" y="786.9" width="19.6" height="118.1" fill="#fff"/>
<path d="M629.5 792.12H649.1M629.5 797.84H649.1M629.5 803.56H649.1M629.5 809.28H649.1M629.5 815H649.1M629.5 820.72H649.1M629.5 826.44H649.1M629.5 832.16H649.1M629.5 837.88H649.1M629.5 843.6H649.1M629.5 849.32H649.1M629.5 855.04H649.1M629.5 860.76H649.1M629.5 866.48H649.1M629.5 872.2H649.1M629.5 877.92H649.1M629.5 883.64H649.1M629.5 889.36H649.1M629.5 895.08H649.1M629.5 900.8H649.1" stroke="#2e2e2e" stroke-width="1.05" fill="none"/>
<rect x="629.5" y="786.9" width="19.6" height="118.1" fill="none" stroke="#2b2b2b" stroke-width="1.05"/>
<path d="M669.3 772.6 V766.4 M664.4 766.4 H674.2" stroke="#2b2b2b" stroke-width="1.2" fill="none"/>
<rect x="659.5" y="773.1" width="19.6" height="131.9" fill="#fff"/>
<path d="M659 778.3L664.7 772.6M659 784L670.4 772.6M659 789.7L676.1 772.6M659 795.4L679.6 774.8M659 801.1L679.6 780.5M659 806.8L679.6 786.2M659 812.5L679.6 791.9M659 818.2L679.6 797.6M659 823.9L679.6 803.3M659 829.6L679.6 809M659 835.3L679.6 814.7M659 841L679.6 820.4M659 846.7L679.6 826.1M659 852.4L679.6 831.8M659 858.1L679.6 837.5M659 863.8L679.6 843.2M659 869.5L679.6 848.9M659 875.2L679.6 854.6M659 880.9L679.6 860.3M659 886.6L679.6 866M659 892.3L679.6 871.7M659 898L679.6 877.4M659 903.7L679.6 883.1M663.4 905L679.6 888.8M669.1 905L679.6 894.5M674.8 905L679.6 900.2" stroke="#303030" stroke-width="1.12" fill="none"/>
<rect x="659.5" y="773.1" width="19.6" height="131.9" fill="none" stroke="#2b2b2b" stroke-width="1.05"/>
<text x="353.8" y="695.3" font-size="16" text-anchor="start" >(e)</text>
<text x="484.6" y="922.3" font-size="14" text-anchor="middle" >30</text>
<text x="624.3" y="922.3" font-size="14" text-anchor="middle" >90</text>
<text x="554" y="943.5" font-size="14.2" text-anchor="middle" >Age (d)</text>
<text transform="translate(365 809) rotate(-90)" font-size="14.3" text-anchor="middle"><tspan font-style="italic">Enterobacteriaceae</tspan></text>
<text transform="translate(382 809) rotate(-90)" font-size="14.3" text-anchor="middle">spp. (log10 CFU/g)</text>
</svg></body></html>
